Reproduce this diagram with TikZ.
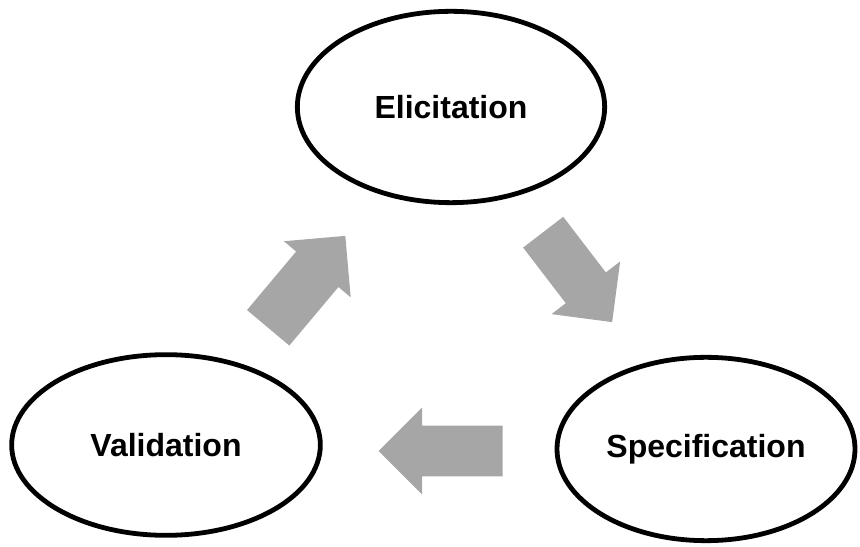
\documentclass[tikz,border=0pt]{standalone}
\usepackage{fontspec}
\setmainfont{Liberation Sans}
\usepackage{tikz}
\usetikzlibrary{shapes.geometric,shapes.arrows}
\definecolor{arrowgray}{RGB}{166,166,166}

\begin{document}
\begin{tikzpicture}[x=0.75pt,y=0.75pt,
    phase/.style={ellipse,draw=black,line width=3.6pt,inner sep=0pt,
      font=\fontsize{24}{28}\selectfont\bfseries},
    blockarrow/.style={single arrow,fill=arrowgray,draw=none,inner xsep=0pt,
      inner ysep=18.75pt,minimum height=90pt,minimum width=0pt,
      single arrow head extend=13.5pt,anchor=tail}]
  \useasboundingbox (0,0) rectangle (860,546);
  \node[phase,minimum width=230.5pt,minimum height=143.5pt] (elic) at (451,439) {Elicitation};
  \node[phase,minimum width=231.5pt,minimum height=135.5pt] (valid) at (166,101) {Validation};
  \node[phase,minimum width=223.5pt,minimum height=137.5pt] (spec) at (706,97) {Specification};
  % the three gray arrows of the cycle
  \node[blockarrow,rotate=-52.5,minimum height=85pt] (elictospec) at (543,314) {};
  \node[blockarrow,rotate=180,minimum height=93pt] (spectovalid) at (503,95) {};
  \node[blockarrow,rotate=50,inner ysep=20.5pt,single arrow head extend=12pt] (validtoelic) at (268,218) {};
\end{tikzpicture}
\end{document}
